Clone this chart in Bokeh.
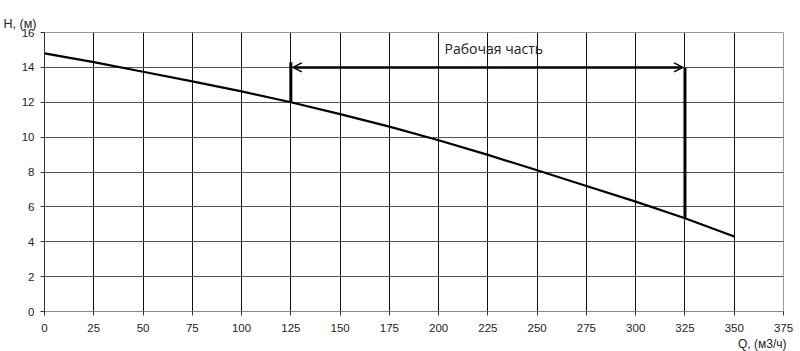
from bokeh.plotting import figure
from bokeh.models import Range1d, FixedTicker, Label, Arrow, OpenHead, Title
from bokeh.embed import file_html
from bokeh.resources import INLINE

q = [0, 25, 50, 75, 100, 125, 150, 175, 200, 225, 250, 275, 300, 325, 350]
h = [14.8, 14.3, 13.75, 13.2, 12.62, 12.0, 11.32, 10.6, 9.82, 8.98, 8.1, 7.2, 6.3, 5.35, 4.3]

work_q = [125, 325]
work_h_low = [12.0, 5.35]
work_top = 14.0
work_left_top = 14.3
work_label = "Рабочая часть"

x_ticks = list(range(0, 376, 25))
y_ticks = list(range(0, 17, 2))

p = figure(width=800, height=351, output_backend="svg", toolbar_location=None,
           x_range=Range1d(0, 375), y_range=Range1d(0, 16),
           min_border_left=44, min_border_right=17, min_border_top=32, min_border_bottom=40)
p.background_fill_color = "white"
p.border_fill_color = "white"
p.outline_line_color = "#999999"
p.outline_line_width = 1

for ax, ticks in ((p.xaxis[0], x_ticks), (p.yaxis[0], y_ticks)):
    ax.ticker = FixedTicker(ticks=ticks)
    ax.minor_tick_line_color = None
    ax.major_label_text_font = "Liberation Sans"
    ax.major_label_text_font_size = "11.5px"
    ax.major_label_text_color = "#222222"
    ax.major_tick_out = 4
    ax.major_tick_in = 0

p.xaxis.axis_line_color = "#888888"
p.xaxis.major_tick_line_color = "#333333"
p.yaxis.axis_line_color = "#333333"
p.yaxis.major_tick_line_color = "#333333"
p.xaxis.major_label_standoff = 8
p.yaxis.major_label_standoff = 6

p.xgrid.ticker = FixedTicker(ticks=x_ticks)
p.ygrid.ticker = FixedTicker(ticks=y_ticks)
p.xgrid.grid_line_color = "#111111"
p.ygrid.grid_line_color = "#555555"
p.xgrid.grid_line_width = 1
p.ygrid.grid_line_width = 1

p.line(q, h, line_color="black", line_width=2.2)

# working zone bracket
p.line([work_q[0], work_q[0]], [work_h_low[0], work_left_top], line_color="black", line_width=3)
p.line([work_q[1], work_q[1]], [work_h_low[1], work_top], line_color="black", line_width=3)
p.add_layout(Arrow(start=OpenHead(size=9, line_width=1.5), end=OpenHead(size=9, line_width=1.5),
                   x_start=work_q[0] + 1, y_start=work_top, x_end=work_q[1] - 1, y_end=work_top,
                   line_width=2.5, line_color="black"))

p.add_layout(Label(x=228, y=15.1, text=work_label, text_align="center", text_baseline="middle",
                   text_font="Open Sans", text_font_size="14px", text_color="#222222"))

t_top = Title(text="H, (м)", align="left", offset=-41, text_font="Liberation Sans",
              text_font_size="12.5px", text_font_style="normal", text_color="#222222",
              standoff=0, vertical_align="top")
p.add_layout(t_top, "above")
t_bottom = Title(text="Q, (м3/ч)", align="right", offset=-3, text_font="Liberation Sans",
                 text_font_size="12px", text_font_style="normal", text_color="#222222",
                 standoff=0)
p.add_layout(t_bottom, "below")

open("out.html", "w").write(file_html(p, INLINE))
